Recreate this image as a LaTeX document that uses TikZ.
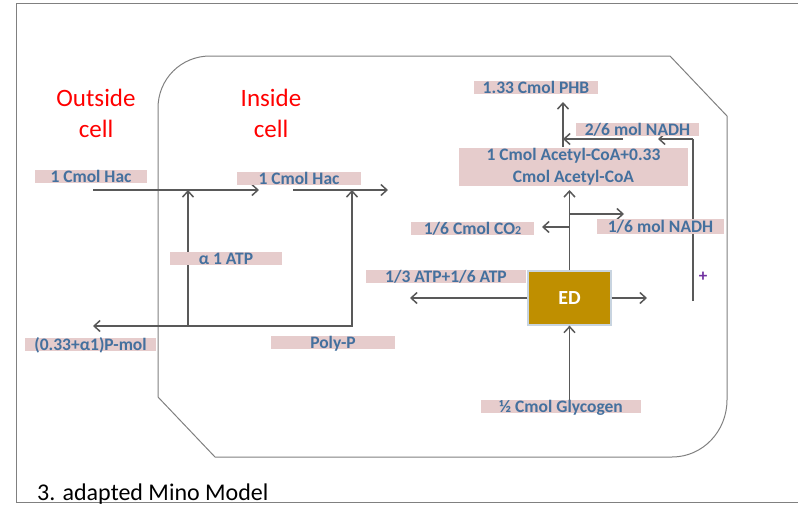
\documentclass[tikz,border=0pt]{standalone}
\usepackage{fontspec}
\setmainfont{Carlito}
\usetikzlibrary{arrows.meta}
\definecolor{pinkbox}{RGB}{230,204,204}
\definecolor{bluetext}{RGB}{68,112,158}
\definecolor{arrowgray}{RGB}{89,89,89}
\definecolor{framegray}{RGB}{128,128,128}
\definecolor{edgold}{RGB}{191,143,0}
\definecolor{edborder}{RGB}{200,212,224}
\definecolor{plusviolet}{RGB}{112,48,160}
\begin{document}
\begin{tikzpicture}[x=1pt,y=-1pt,
  lblbase/.style={fill=pinkbox, text=bluetext, inner sep=0pt,
    font=\bfseries\fontsize{17.5}{22}\selectfont},
  lbl/.style={lblbase, minimum height=13pt, text height=12.5pt, text depth=0.5pt},
  arr/.style={draw=arrowgray, line width=1.5pt, -{Straight Barb[length=6pt,width=11pt]}},
  dblarr/.style={draw=arrowgray, line width=1.5pt, {Straight Barb[length=6pt,width=11pt]}-{Straight Barb[length=6pt,width=11pt]}},
  plainline/.style={draw=arrowgray, line width=1.5pt},
  redtitle/.style={text=red, font=\fontsize{25}{30}\selectfont, inner sep=0pt, anchor=base},
  framestyle/.style={draw=framegray, line width=1pt},
  cellstyle/.style={draw=framegray, line width=1pt},
  edbox/.style={fill=edgold, draw=edborder, line width=1.2pt, text=white,
    font=\bfseries\fontsize{20}{24}\selectfont, minimum width=83pt, minimum height=54pt, inner sep=0pt}
]
\useasboundingbox (0,0) rectangle (798,507);

% outer frame
\draw[framestyle] (798,3) -- (16,3) -- (16,502) -- (798,502);

% cell outline
\draw[cellstyle] (210,56) -- (670,56) -- (727,116) -- (727,400)
  .. controls (727,431) and (703,457) .. (672,457) -- (215,457) -- (158,397) -- (158,108)
  .. controls (158,79) and (181,56) .. (210,56) -- cycle;

% titles
\node[redtitle] (out1) at (96,106) {Outside};
\node[redtitle] (out2) at (96,137) {cell};
\node[redtitle] (in1) at (271,106) {Inside};
\node[redtitle] (in2) at (271,137) {cell};
\node[anchor=base west, inner sep=0pt, font=\fontsize{24}{28}\selectfont] (caption) at (37,500) {3. adapted Mino Model};

% coordinates
\coordinate (hacA1) at (93,190);
\coordinate (hacA2) at (259,190);
\coordinate (hacB1) at (293,190);
\coordinate (hacB2) at (388,190);
\coordinate (atpBot) at (188,326);
\coordinate (atpTop) at (188,190);
\coordinate (polyCorner) at (352,326);
\coordinate (polyTop) at (352,190);
\coordinate (pmolEnd) at (93,326);
\coordinate (edLeftEnd) at (410,298);
\coordinate (edRightEnd) at (647,298);
\coordinate (edTopTip) at (569.5,190);
\coordinate (branchR) at (569.5,214);
\coordinate (branchRend) at (624,214);
\coordinate (branchL) at (569.5,227);
\coordinate (branchLend) at (542,227);
\coordinate (phbTip) at (563,102);
\coordinate (phbBase) at (563,147);
\coordinate (nadhA1) at (623,139);
\coordinate (nadhA2) at (563,139);
\coordinate (loopBot) at (693,301);
\coordinate (loopTop) at (693,139);
\coordinate (loopEnd) at (658,139);

% ED box
\node[edbox] (ED) at (569.5,298) {ED};

% connectors (drawn before labels)
\draw[arr] (hacA1) -- (hacA2);
\draw[arr] (hacB1) -- (hacB2);
\draw[arr] (atpBot) -- (atpTop);
\draw[dblarr] (pmolEnd) -- (polyCorner) -- (polyTop);
\draw[arr] (ED.west) -- (edLeftEnd);
\draw[arr] (ED.east) -- (edRightEnd);
\draw[arr] (ED.north) -- (edTopTip);
\draw[arr] (branchR) -- (branchRend);
\draw[arr] (branchL) -- (branchLend);
\draw[arr] (phbBase) -- (phbTip);
\draw[arr] (nadhA1) -- (nadhA2);
\draw[plainline] (loopBot) -- (loopTop);
\draw[arr] (loopTop) -- (loopEnd);

% labels
\node[lbl, minimum width=112pt] (hacOut) at (91,176.5) {1 Cmol Hac};
\node[lbl, minimum width=124pt] (hacIn) at (299,178.5) {1 Cmol Hac};
\node[lbl, minimum width=112pt] (atp) at (226,258) {α 1 ATP};
\node[lbl, minimum width=131pt] (pmol) at (90.5,344.5) {(0.33+α1)P-mol};
\node[lbl, minimum width=124pt] (polyp) at (333,342) {Poly-P};
\node[lbl, minimum width=124pt] (phb) at (536,87) {1.33 Cmol PHB};
\node[lbl, minimum width=123pt] (nadh2) at (637.5,129.5) {2/6 mol NADH};
\node[lblbase, align=center, minimum width=229pt, minimum height=38pt] (acetyl) at (573.5,167) {1 Cmol Acetyl-CoA+0.33\\Cmol Acetyl-CoA};
\node[lbl, minimum width=123pt] (co2) at (472.5,228) {1/6 Cmol CO{\fontsize{12}{12}\selectfont 2}};
\node[lbl, minimum width=127pt, minimum height=15pt, text depth=1.5pt] (nadh1) at (660.5,226.5) {1/6 mol NADH};
\node[lbl, minimum width=160pt] (atp2) at (446,276.5) {1/3 ATP+1/6 ATP};
\node[lbl, minimum width=160pt] (glyc) at (561,406.5) {½ Cmol Glycogen};

% connector from glycogen label
\draw[arr] (glyc.north -| ED.south) -- (ED.south);

\node[text=plusviolet, font=\bfseries\fontsize{17}{18}\selectfont, inner sep=0pt] (plus) at (703,277) {+};
\end{tikzpicture}
\end{document}
